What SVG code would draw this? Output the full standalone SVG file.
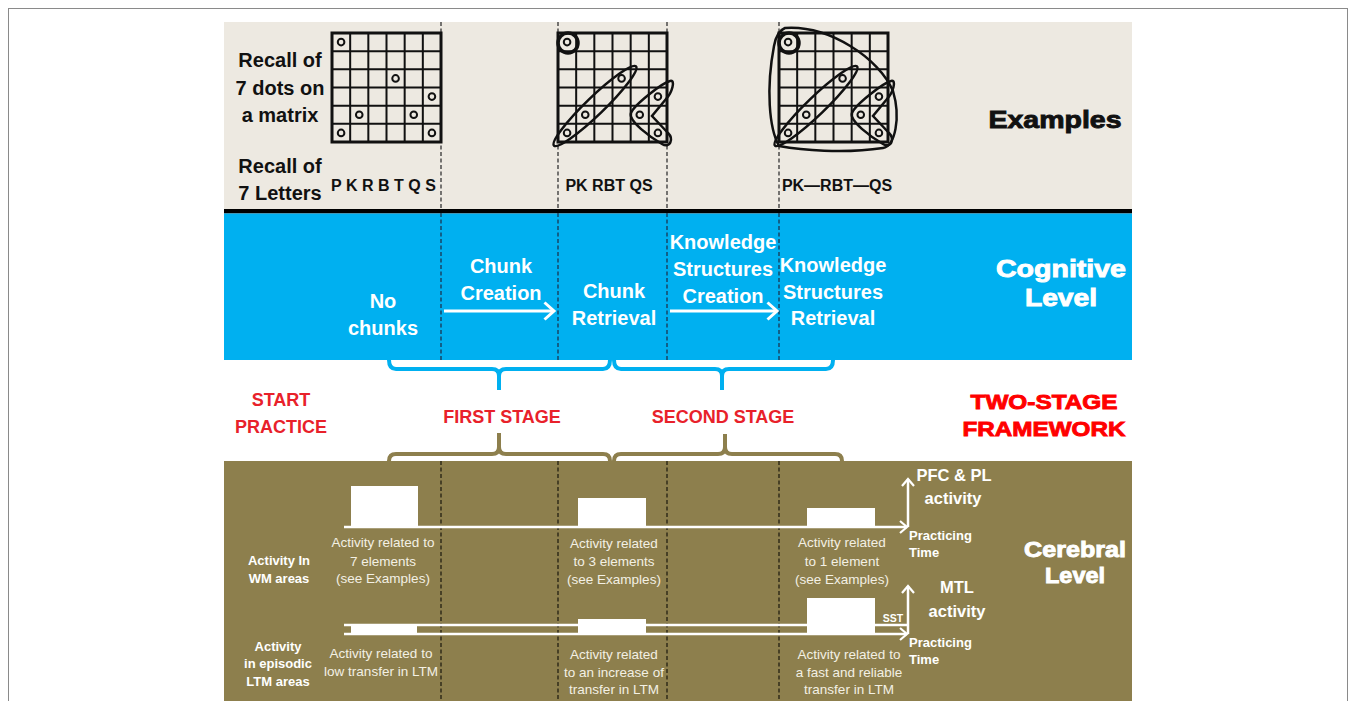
<svg xmlns="http://www.w3.org/2000/svg" width="1356" height="701" viewBox="0 0 1356 701">
<defs>
<style>
text { font-family: "Liberation Sans", Arial, sans-serif; }
.ex { fill: #111; font-size: 20px; font-weight: bold; text-anchor: middle; }
.let { fill: #111; font-size: 16px; font-weight: bold; }
.cg { fill: #fff; font-size: 20px; font-weight: bold; text-anchor: middle; }
.rd { fill: #E8212A; font-size: 18px; font-weight: bold; text-anchor: middle; }
.hv { font-weight: 900; stroke-width: 0.9; text-anchor: middle; }
.cb { fill: #fff; font-size: 13px; font-weight: bold; text-anchor: middle; }
.cbl { fill: #fff; font-size: 13px; font-weight: bold; }
.cm { fill: #fff; font-size: 16.5px; font-weight: bold; text-anchor: middle; }
.cr { fill: #F3F0E4; font-size: 13.5px; text-anchor: middle; }
.dash { fill: none; stroke-width: 1.3; stroke-dasharray: 4 2.5; }
.wl { fill: none; stroke: #fff; stroke-width: 2.5; }
.blk { fill: #fff; }
</style>
<marker id="chev" markerUnits="userSpaceOnUse" markerWidth="12" markerHeight="14" refX="8" refY="7" orient="auto">
<path d="M1,1 L8,7 L1,13" fill="none" stroke="#fff" stroke-width="2.2"/>
</marker>
<marker id="chevL" markerUnits="userSpaceOnUse" markerWidth="14" markerHeight="20" refX="11" refY="10" orient="auto">
<path d="M1.5,1.5 L11,10 L1.5,18.5" fill="none" stroke="#fff" stroke-width="3"/>
</marker>
<g id="grid">
<rect x="0" y="0" width="109" height="109" fill="none" stroke="#111" stroke-width="3"/>
<path d="M18.17 0V109M36.33 0V109M54.5 0V109M72.67 0V109M90.83 0V109M0 18.17H109M0 36.33H109M0 54.5H109M0 72.67H109M0 90.83H109" stroke="#111" stroke-width="2"/>
</g>
<g id="dots" fill="none" stroke="#111" stroke-width="2">
<circle cx="9.08" cy="9.08" r="3.3"/>
<circle cx="63.58" cy="45.42" r="3.3"/>
<circle cx="99.92" cy="63.58" r="3.3"/>
<circle cx="27.25" cy="81.75" r="3.3"/>
<circle cx="81.75" cy="81.75" r="3.3"/>
<circle cx="9.08" cy="99.92" r="3.3"/>
<circle cx="99.92" cy="99.92" r="3.3"/>
</g>
<g id="loops" fill="none" stroke="#111" stroke-width="2.5">
<circle cx="10" cy="10" r="10" stroke-width="3.5"/>
<ellipse cx="37" cy="73" rx="57" ry="9" transform="rotate(-44 37 73)"/>
<path d="M112 48 C104 50 76 72 73 80 C70 88 92 104 104 111 C112 116 116 106 110 100 L94 83 L108 66 C114 60 118 46 112 48 Z"/>
</g>
</defs>

<rect x="8.5" y="8.5" width="1339" height="700" fill="#fff" stroke="#8a8a8a" stroke-width="1"/>

<g id="panels">
<rect x="224" y="22" width="908" height="188" fill="#EDE9E1"/>
<rect x="224" y="209" width="908" height="4.5" fill="#000"/>
<rect x="224" y="213.5" width="908" height="146.5" fill="#00B0F0"/>
<rect x="224" y="461" width="908" height="240" fill="#8D7F4D"/>
</g>

<g id="dashed-lines">
<path class="dash" stroke="#333" d="M441 22V209M558 22V209M667 22V209M779 22V209"/>
<path class="dash" stroke="#1B3550" d="M441 213V360M558 213V360M667 213V360M779 213V360"/>
<path class="dash" stroke="#221F12" d="M441 461V701M558 461V701M667 461V701M779 461V701"/>
</g>

<g id="examples">
<text class="ex" x="280" y="67">Recall of</text>
<text class="ex" x="280" y="95">7 dots on</text>
<text class="ex" x="280" y="122">a matrix</text>
<text class="ex" x="280" y="173">Recall of</text>
<text class="ex" x="280" y="200">7 Letters</text>
<g id="matrix1" transform="translate(332 33)"><use href="#grid"/><use href="#dots"/></g>
<g id="matrix2" transform="translate(558 33)"><use href="#grid"/><use href="#dots"/><use href="#loops"/></g>
<g id="matrix3" transform="translate(779 33)"><use href="#grid"/><use href="#dots"/><use href="#loops"/>
<path d="M6 -5 C50 -8 100 25 114 58 C122 85 116 113 104 115 C64 121 22 117 0 113 C-10 95 -13 55 -5 13 C-3 2 1 -3 6 -5 Z" fill="none" stroke="#111" stroke-width="2.5"/>
</g>
<text class="let" x="331" y="191" textLength="105" lengthAdjust="spacing">P K R B T Q S</text>
<text class="let" x="609" y="191" text-anchor="middle">PK RBT QS</text>
<text class="let" x="837" y="191" text-anchor="middle">PK—RBT—QS</text>
<text class="hv" x="1055" y="128" font-size="24" fill="#111" stroke="#111" textLength="133" lengthAdjust="spacingAndGlyphs">Examples</text>
</g>

<g id="cognitive">
<text class="cg" x="383" y="308">No</text>
<text class="cg" x="383" y="335">chunks</text>
<text class="cg" x="501" y="273">Chunk</text>
<text class="cg" x="501" y="300">Creation</text>
<text class="cg" x="614" y="298">Chunk</text>
<text class="cg" x="614" y="325">Retrieval</text>
<text class="cg" x="723" y="249">Knowledge</text>
<text class="cg" x="723" y="276">Structures</text>
<text class="cg" x="723" y="303">Creation</text>
<text class="cg" x="833" y="272">Knowledge</text>
<text class="cg" x="833" y="299">Structures</text>
<text class="cg" x="833" y="325">Retrieval</text>
<text class="hv" x="1061" y="277" font-size="24" fill="#fff" stroke="#fff" textLength="130" lengthAdjust="spacingAndGlyphs">Cognitive</text>
<text class="hv" x="1061" y="306" font-size="24" fill="#fff" stroke="#fff" textLength="72" lengthAdjust="spacingAndGlyphs">Level</text>
</g>

<g id="connectors">
<path d="M444 311 H554" fill="none" stroke="#fff" stroke-width="3" marker-end="url(#chevL)"/>
<path d="M670 311 H777" fill="none" stroke="#fff" stroke-width="3" marker-end="url(#chevL)"/>
<path d="M389 360 Q389 369 396 369 L492 369 Q499 369 499 376 L499 390 M499 376 Q499 369 506 369 L603 369 Q610 369 610 360" fill="none" stroke="#00B0F0" stroke-width="4"/>
<path d="M614 360 Q614 369 621 369 L715 369 Q722 369 722 376 L722 390 M722 376 Q722 369 729 369 L826 369 Q833 369 833 360" fill="none" stroke="#00B0F0" stroke-width="4"/>
<path d="M389 461 Q389 454 396 454 L492 454 Q499 454 499 447 L499 433 M499 447 Q499 454 506 454 L603 454 Q610 454 610 461" fill="none" stroke="#8D7F4D" stroke-width="4"/>
<path d="M614 461 Q614 454 621 454 L718 454 Q725 454 725 447 L725 434 M725 447 Q725 454 732 454 L835 454 Q842 454 842 461" fill="none" stroke="#8D7F4D" stroke-width="4"/>
<path class="wl" d="M344 527 H907" marker-end="url(#chev)"/>
<path class="wl" d="M908 527 V479" marker-end="url(#chev)"/>
<path class="wl" d="M344 634 H907" marker-end="url(#chev)"/>
<path class="wl" d="M908 634 V586" marker-end="url(#chev)"/>
<path class="wl" d="M344 625 H907"/>
</g>

<g id="stages">
<text class="rd" x="281" y="406">START</text>
<text class="rd" x="281" y="433">PRACTICE</text>
<text class="rd" x="502" y="423">FIRST STAGE</text>
<text class="rd" x="723" y="423">SECOND STAGE</text>
<text class="hv" x="1044" y="409" font-size="21" fill="#FF0000" stroke="#FF0000" textLength="147" lengthAdjust="spacingAndGlyphs">TWO-STAGE</text>
<text class="hv" x="1044" y="436" font-size="21" fill="#FF0000" stroke="#FF0000" textLength="163" lengthAdjust="spacingAndGlyphs">FRAMEWORK</text>
</g>

<g id="cerebral">
<rect class="blk" x="351" y="486" width="67" height="41"/>
<rect class="blk" x="578" y="498" width="68" height="29"/>
<rect class="blk" x="807" y="508" width="68" height="19"/>
<rect class="blk" x="351" y="625" width="66" height="9"/>
<rect class="blk" x="578" y="619" width="68" height="15"/>
<rect class="blk" x="807" y="598" width="68" height="36"/>
<text class="cb" x="279" y="565">Activity In</text>
<text class="cb" x="279" y="583">WM areas</text>
<text class="cb" x="278" y="651">Activity</text>
<text class="cb" x="278" y="668">in episodic</text>
<text class="cb" x="278" y="686">LTM areas</text>
<text class="cr" x="383" y="547">Activity related to</text>
<text class="cr" x="383" y="566">7 elements</text>
<text class="cr" x="383" y="583">(see Examples)</text>
<text class="cr" x="381" y="658">Activity related to</text>
<text class="cr" x="381" y="676">low transfer in LTM</text>
<text class="cr" x="614" y="548">Activity related</text>
<text class="cr" x="614" y="566">to 3 elements</text>
<text class="cr" x="614" y="584">(see Examples)</text>
<text class="cr" x="614" y="659">Activity related</text>
<text class="cr" x="614" y="677">to an increase of</text>
<text class="cr" x="614" y="694">transfer in LTM</text>
<text class="cr" x="842" y="547">Activity related</text>
<text class="cr" x="842" y="566">to 1 element</text>
<text class="cr" x="842" y="584">(see Examples)</text>
<text class="cr" x="849" y="659">Activity related to</text>
<text class="cr" x="849" y="677">a fast and reliable</text>
<text class="cr" x="849" y="694">transfer in LTM</text>
<text class="cm" x="954" y="481">PFC &amp; PL</text>
<text class="cm" x="953" y="504">activity</text>
<text class="cbl" x="909" y="540">Practicing</text>
<text class="cbl" x="909" y="557">Time</text>
<text class="cm" x="957" y="593">MTL</text>
<text class="cm" x="957" y="617">activity</text>
<text x="893" y="622" fill="#fff" font-size="10.5" font-weight="bold" text-anchor="middle">SST</text>
<text class="cbl" x="909" y="647">Practicing</text>
<text class="cbl" x="909" y="664">Time</text>
<text class="hv" x="1075" y="557" font-size="22" fill="#fff" stroke="#fff" textLength="102" lengthAdjust="spacingAndGlyphs">Cerebral</text>
<text class="hv" x="1075" y="583" font-size="22" fill="#fff" stroke="#fff" textLength="60" lengthAdjust="spacingAndGlyphs">Level</text>
</g>
</svg>
